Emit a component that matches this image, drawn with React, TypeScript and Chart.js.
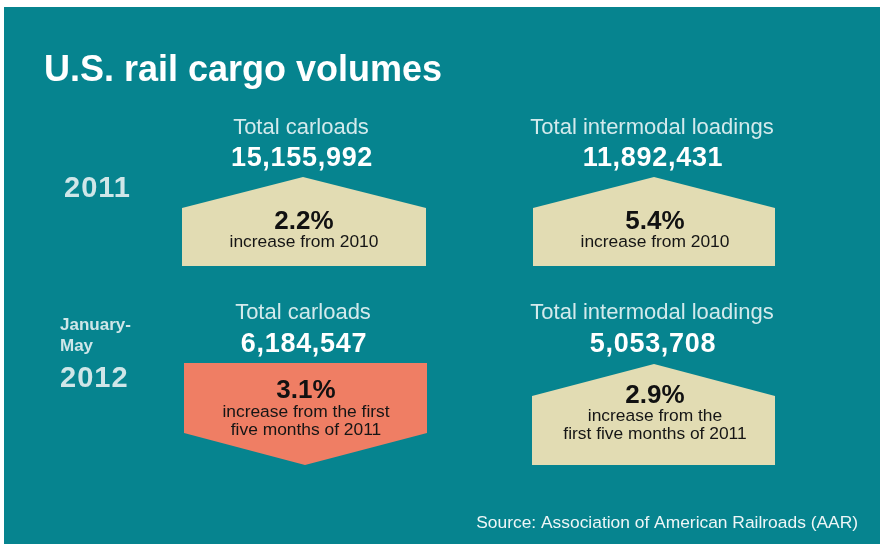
import React, { useEffect, useRef } from "react";
import { Chart, registerables } from "chart.js";

Chart.register(...registerables);

// ---- data ----
const title = "U.S. rail cargo volumes";
const source = "Source: Association of American Railroads (AAR)";
const metrics = ["Total carloads", "Total intermodal loadings"];
const periodLabels2011 = ["2011"];
const periodLabels2012 = ["January-", "May", "2012"];
const totals2011 = [15155992, 11892431];
const totals2012 = [6184547, 5053708];
const change2011 = [2.2, 5.4];
const change2012 = [3.1, 2.9];
const captions2011 = [["increase from 2010"], ["increase from 2010"]];
const captions2012 = [
  ["increase from the first", "five months of 2011"],
  ["increase from the", "first five months of 2011"],
];
const arrows2011 = ["up", "up"];
const arrows2012 = ["down", "up"];

// ---- layout / style ----
const W = 880;
const H = 546;
const FONT = '"Liberation Sans", Arial, Helvetica, sans-serif';
const COLORS = {
  page: "#ffffff",
  bg: "#06848f",
  title: "#ffffff",
  label: "#d3eaec",
  total: "#ffffff",
  period: "#cfe6e8",
  up: "#e2dcb3",
  down: "#ef7e64",
  pct: "#111111",
  caption: "#151515",
  source: "#eef6f7",
};

type Panel = {
  cx: number;
  left: number;
  right: number;
  labelY: number;
  totalY: number;
  a: number; // tip (up) or top (down)
  s: number; // shoulder
  b: number; // bottom (up) or tip (down)
  pctY: number;
  capY: number[];
};

const LAYOUT: Panel[][] = [
  [
    { cx: 303, left: 182, right: 426, labelY: 134, totalY: 166, a: 177, s: 208, b: 266, pctY: 229, capY: [247] },
    { cx: 654, left: 533, right: 775, labelY: 134, totalY: 166, a: 177, s: 208, b: 266, pctY: 229, capY: [247] },
  ],
  [
    { cx: 305, left: 184, right: 427, labelY: 319, totalY: 352, a: 363, s: 433, b: 465, pctY: 398, capY: [417, 435] },
    { cx: 654, left: 532, right: 775, labelY: 319, totalY: 352, a: 364, s: 396, b: 465, pctY: 403, capY: [421, 439] },
  ],
];

const fmt = (n: number) => n.toLocaleString("en-US");

const infographicPlugin = {
  id: "infographic",
  beforeDraw(chart: any) {
    const { ctx } = chart;
    const xs = chart.scales.x;
    const ys = chart.scales.y;
    const X = (v: number) => xs.getPixelForValue(v);
    const Y = (v: number) => ys.getPixelForValue(v);
    const spacing = (s: string) => {
      if ("letterSpacing" in ctx) (ctx as any).letterSpacing = s;
    };

    ctx.save();
    ctx.fillStyle = COLORS.page;
    ctx.fillRect(0, 0, W, H);
    ctx.fillStyle = COLORS.bg;
    ctx.fillRect(X(4), Y(7), X(880) - X(4), Y(544) - Y(7));

    ctx.textBaseline = "alphabetic";

    // title
    ctx.fillStyle = COLORS.title;
    ctx.textAlign = "left";
    ctx.font = `bold 36px ${FONT}`;
    ctx.fillText(title, X(44), Y(81));

    // period labels
    ctx.fillStyle = COLORS.period;
    ctx.textAlign = "left";
    ctx.font = `bold 29px ${FONT}`;
    spacing("1px");
    ctx.fillText(periodLabels2011[0], X(64), Y(197));
    spacing("0px");
    ctx.font = `bold 17px ${FONT}`;
    ctx.fillText(periodLabels2012[0], X(60), Y(330));
    ctx.fillText(periodLabels2012[1], X(60), Y(351));
    ctx.font = `bold 29px ${FONT}`;
    spacing("1px");
    ctx.fillText(periodLabels2012[2], X(60), Y(387));
    spacing("0px");

    const rows = [
      { totals: totals2011, change: change2011, captions: captions2011, arrows: arrows2011 },
      { totals: totals2012, change: change2012, captions: captions2012, arrows: arrows2012 },
    ];

    rows.forEach((row, r) => {
      row.totals.forEach((total, c) => {
        const p = LAYOUT[r][c];
        const dir = row.arrows[c];
        // labels
        ctx.textAlign = "center";
        ctx.fillStyle = COLORS.label;
        ctx.font = `22px ${FONT}`;
        ctx.fillText(metrics[c], X(p.cx - 2), Y(p.labelY));
        ctx.fillStyle = COLORS.total;
        ctx.font = `bold 27px ${FONT}`;
        spacing("0.7px");
        ctx.fillText(fmt(total), X(p.cx - 1), Y(p.totalY));
        spacing("0px");

        // arrow
        ctx.beginPath();
        if (dir === "up") {
          ctx.moveTo(X(p.cx), Y(p.a));
          ctx.lineTo(X(p.right), Y(p.s));
          ctx.lineTo(X(p.right), Y(p.b));
          ctx.lineTo(X(p.left), Y(p.b));
          ctx.lineTo(X(p.left), Y(p.s));
        } else {
          ctx.moveTo(X(p.left), Y(p.a));
          ctx.lineTo(X(p.right), Y(p.a));
          ctx.lineTo(X(p.right), Y(p.s));
          ctx.lineTo(X(p.cx), Y(p.b));
          ctx.lineTo(X(p.left), Y(p.s));
        }
        ctx.closePath();
        ctx.fillStyle = dir === "up" ? COLORS.up : COLORS.down;
        ctx.fill();

        // percentages and captions
        ctx.fillStyle = COLORS.pct;
        ctx.font = `bold 26px ${FONT}`;
        ctx.fillText(`${row.change[c].toFixed(1)}%`, X(p.cx + 1), Y(p.pctY));
        ctx.fillStyle = COLORS.caption;
        ctx.font = `17.4px ${FONT}`;
        row.captions[c].forEach((line, i) => {
          ctx.fillText(line, X(p.cx + 1), Y(p.capY[i]));
        });
      });
    });

    // source
    ctx.textAlign = "right";
    ctx.fillStyle = COLORS.source;
    ctx.font = `17.4px ${FONT}`;
    ctx.fillText(source, X(858), Y(528));
    ctx.restore();
  },
};

export default function App() {
  const ref = useRef<HTMLCanvasElement | null>(null);
  useEffect(() => {
    document.body.style.margin = "0";
    const canvas = ref.current;
    if (!canvas) return;
    const chart = new Chart(canvas, {
      type: "scatter",
      data: { datasets: [{ data: [], pointRadius: 0 }] },
      options: {
        animation: false,
        responsive: false,
        devicePixelRatio: 1,
        layout: { padding: 0 },
        plugins: { legend: { display: false }, tooltip: { enabled: false } },
        scales: {
          x: { type: "linear", min: 0, max: W, display: false },
          y: { type: "linear", min: 0, max: H, reverse: true, display: false },
        },
      },
      plugins: [infographicPlugin],
    });
    return () => chart.destroy();
  }, []);
  return <canvas ref={ref} width={W} height={H} style={{ display: "block" }} />;
}
